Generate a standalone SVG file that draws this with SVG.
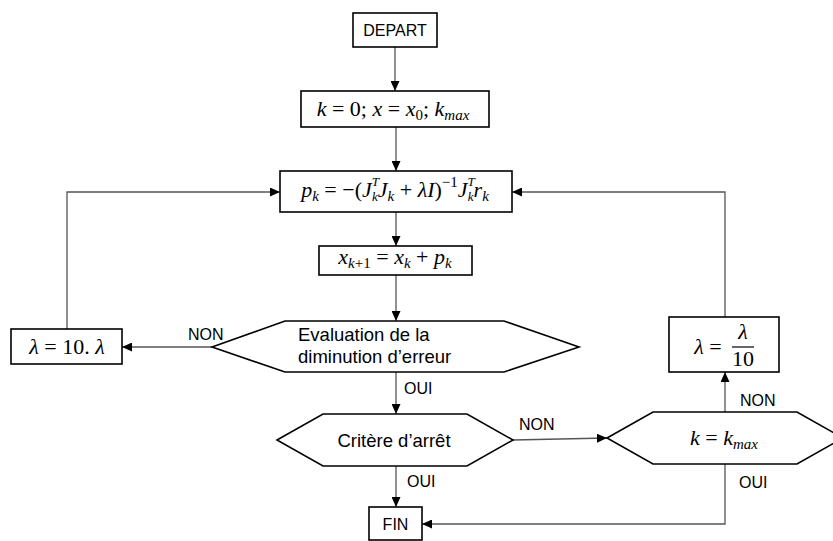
<svg xmlns="http://www.w3.org/2000/svg" width="833" height="541" viewBox="0 0 833 541">
<style>
.box{fill:#fff;stroke:#000;stroke-width:1.6}
.con{fill:none;stroke:#555;stroke-width:1.3}
.t{font-family:"Liberation Sans",Arial,sans-serif;font-size:18.5px;fill:#000}
.lb{font-family:"Liberation Sans",Arial,sans-serif;font-size:16px;fill:#000}
.m{font-family:"Liberation Serif","Times New Roman",serif;font-size:22px;fill:#000}
.i{font-style:italic}
.s{font-size:15px;font-style:italic}
.sn{font-size:15px}
.ss{font-size:13px;font-style:italic}
</style>
<defs>
<marker id="ar" markerUnits="userSpaceOnUse" markerWidth="10" markerHeight="9" refX="10" refY="4.5" orient="auto">
<path d="M0,0 L10,4.5 L0,9 z" fill="#000"/>
</marker>
</defs>
<rect width="833" height="541" fill="#fff"/>
<g id="connectors">
<path class="con" d="M395,47 V91" marker-end="url(#ar)"/>
<path class="con" d="M396,127 V171" marker-end="url(#ar)"/>
<path class="con" d="M396,212 V246" marker-end="url(#ar)"/>
<path class="con" d="M396,275 V321" marker-end="url(#ar)"/>
<path class="con" d="M212,347 H122" marker-end="url(#ar)"/>
<path class="con" d="M67,329 V192 H280" marker-end="url(#ar)"/>
<path class="con" d="M396,372 V414" marker-end="url(#ar)"/>
<path class="con" d="M513,440 L607,438" marker-end="url(#ar)"/>
<path class="con" d="M396,466 V507" marker-end="url(#ar)"/>
<path class="con" d="M725,412 V372" marker-end="url(#ar)"/>
<path class="con" d="M725,317 V192 H512" marker-end="url(#ar)"/>
<path class="con" d="M725,464 V524 H422" marker-end="url(#ar)"/>
<text class="lb" x="188" y="340">NON</text>
<text class="lb" x="404" y="394">OUI</text>
<text class="lb" x="519" y="430">NON</text>
<text class="lb" x="407" y="487">OUI</text>
<text class="lb" x="740" y="406">NON</text>
<text class="lb" x="739" y="488">OUI</text>
</g>
<g id="depart">
<rect class="box" x="353" y="13" width="84" height="34"/>
<text class="lb" x="395" y="36" text-anchor="middle">DEPART</text>
</g>
<g id="init">
<rect class="box" x="301" y="91" width="188" height="36"/>
<text class="m" x="393" y="116" text-anchor="middle"><tspan class="i">k</tspan> = 0; <tspan class="i">x</tspan> = <tspan class="i">x</tspan><tspan class="sn" dy="4">0</tspan><tspan dy="-4">; </tspan><tspan class="i">k</tspan><tspan class="s" dy="4">max</tspan></text>
</g>
<g id="pk">
<rect class="box" x="280" y="171" width="232" height="41"/>
<text class="m" x="395" y="197" text-anchor="middle"><tspan class="i">p</tspan><tspan class="s" dy="4">k</tspan><tspan dy="-4"> = −(</tspan><tspan class="i">J</tspan><tspan class="ss" dy="-11">T</tspan><tspan class="ss" dx="-7" dy="15">k</tspan><tspan class="i" dy="-4">J</tspan><tspan class="s" dy="4">k</tspan><tspan dy="-4"> + </tspan><tspan class="i">λI</tspan><tspan>)</tspan><tspan class="sn" dy="-10">−1</tspan><tspan class="i" dy="10">J</tspan><tspan class="ss" dy="-11">T</tspan><tspan class="ss" dx="-7" dy="15">k</tspan><tspan class="i" dy="-4">r</tspan><tspan class="s" dy="4">k</tspan></text>
</g>
<g id="update">
<rect class="box" x="319" y="246" width="153" height="29"/>
<text class="m" x="395" y="264" text-anchor="middle"><tspan class="i">x</tspan><tspan class="s" dy="4">k</tspan><tspan class="sn">+1</tspan><tspan dy="-4"> = </tspan><tspan class="i">x</tspan><tspan class="s" dy="4">k</tspan><tspan dy="-4"> + </tspan><tspan class="i">p</tspan><tspan class="s" dy="4">k</tspan></text>
</g>
<g id="evaluation">
<polygon class="box" points="212,347 285,321 504,321 579,347 504,372 285,372"/>
<text class="t" x="298" y="341">Evaluation de la</text>
<text class="t" x="298" y="363">diminution d’erreur</text>
</g>
<g id="lambda-mul">
<rect class="box" x="11" y="329" width="111" height="35"/>
<text class="m" x="67" y="354" text-anchor="middle"><tspan class="i">λ</tspan> = 10. <tspan class="i">λ</tspan></text>
</g>
<g id="critere">
<polygon class="box" points="277,440 323,414 467,414 513,440 467,466 323,466"/>
<text class="t" x="394" y="447" text-anchor="middle">Critère d’arrêt</text>
</g>
<g id="kmax">
<polygon class="box" points="607,438 653,412 797,412 843,438 797,464 653,464"/>
<text class="m" x="724" y="445" text-anchor="middle"><tspan class="i">k</tspan> = <tspan class="i">k</tspan><tspan class="s" dy="4">max</tspan></text>
</g>
<g id="lambda-div">
<rect class="box" x="669" y="317" width="110" height="55"/>
<text class="m" x="708" y="354" text-anchor="middle"><tspan class="i">λ</tspan> =</text>
<text class="m i" x="743" y="339" text-anchor="middle">λ</text>
<line x1="732" y1="347" x2="754" y2="347" stroke="#000" stroke-width="1.2"/>
<text class="m" x="743" y="366" text-anchor="middle">10</text>
</g>
<g id="fin">
<rect class="box" x="369" y="507" width="53" height="33"/>
<text class="lb" x="395.5" y="530" text-anchor="middle">FIN</text>
</g>
</svg>
